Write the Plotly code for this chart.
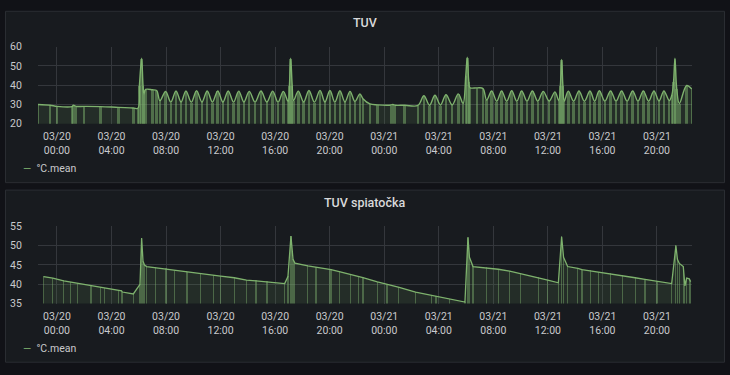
import pandas as pd
import plotly.graph_objects as go

# ---------------- data (hours since 2021-03-20 00:00) ----------------
tuv_hours = [
    -1.39, -0.5, 0.0, 1.1, 1.2, 1.4, 2.0, 3.2, 4.5, 5.6, 5.94,
    6.05, 6.21, 6.31, 6.38, 6.5, 7.0, 7.31, 7.55,
    7.97, 8.35, 8.73, 9.1, 9.46, 9.85, 10.24, 10.63, 11.02, 11.4, 11.79, 12.17,
    12.56, 12.95, 13.33, 13.71, 14.1, 14.53, 14.96, 15.39, 15.82, 16.21, 16.6,
    16.95, 17.05, 17.14, 17.25, 17.35, 17.7, 18.09, 18.48, 18.88, 19.29, 19.65,
    20.02, 20.38, 20.75, 21.12, 21.49, 21.85, 22.22, 22.44, 22.95, 23.5, 24.5,
    24.64, 24.8, 25.5, 26.47,
    26.91, 27.32, 27.72, 28.12, 28.53, 28.98, 29.43, 29.78, 29.98, 30.09, 30.2,
    30.29, 30.8, 31.24, 31.51,
    31.88, 32.25, 32.61, 32.98, 33.35, 33.72, 34.08, 34.47, 34.86, 35.26, 35.66,
    36.09, 36.52, 36.8, 36.92, 37.01, 37.1, 37.2, 37.5, 37.89, 38.28, 38.68,
    39.09, 39.43, 39.77, 40.18, 40.6, 41.0, 41.41, 41.81, 42.22, 42.61, 43.0,
    43.39, 43.78, 44.15, 44.51, 44.9, 45.1, 45.22, 45.32, 45.45, 45.64, 46.18,
    46.57,
]
tuv_values = [
    30.0, 29.6, 29.0, 28.9, 29.6, 29.0, 29.0, 28.9, 28.5, 28.2, 28.0,
    40.0, 54.0, 40.0, 35.5, 37.8, 37.6, 37.2, 32.0,
    36.7, 31.2, 37.0, 31.3, 37.0, 31.2, 37.1, 31.3, 37.0, 31.2, 37.0, 31.3,
    37.0, 31.2, 36.9, 31.3, 36.8, 31.2, 37.0, 31.3, 36.9, 31.2, 36.8,
    31.5, 40.0, 54.0, 40.0, 32.0, 36.9, 31.3, 37.2, 31.2, 37.3, 31.3,
    37.2, 31.2, 37.1, 31.3, 36.8, 31.5, 35.5, 33.0, 30.3, 29.8, 29.7,
    30.0, 29.6, 29.6, 29.5,
    34.5, 29.6, 34.8, 29.7, 35.0, 29.8, 35.5, 30.5, 45.0, 54.5, 42.0,
    38.7, 38.6, 38.3, 32.3,
    37.0, 31.7, 37.0, 31.7, 37.1, 31.7, 37.0, 31.7, 37.0, 31.7, 36.8,
    31.8, 36.5, 32.0, 40.0, 53.3, 40.0, 31.8, 36.9, 31.7, 37.0, 31.7,
    37.0, 31.7, 37.1, 31.7, 37.0, 31.7, 37.0, 31.7, 37.0, 31.7, 37.0,
    31.7, 37.0, 31.8, 37.0, 32.0, 35.0, 42.0, 54.0, 38.0, 30.5, 39.8,
    37.8,
]

ret_hours = [
    -0.98, -0.3, 0.5, 1.0, 1.5, 2.5, 3.2, 3.5, 4.5, 4.74, 4.8, 5.6,
    6.09, 6.21, 6.31, 6.42, 6.58, 7.2, 8.0, 8.6, 9.5, 9.6, 10.5, 11.5, 12.0,
    13.0, 13.9, 14.6, 15.4, 16.7, 16.94, 17.16, 17.31, 17.45, 18.4, 19.0,
    20.0, 20.1, 20.7, 21.5, 22.1, 22.44, 23.5, 24.2, 25.03, 26.3, 27.48,
    27.8, 28.8, 29.92, 30.14, 30.25, 30.51, 31.5, 32.36, 33.2, 34.0, 35.3,
    36.0, 36.77, 37.01, 37.15, 37.45, 38.2, 38.5, 39.1, 39.7, 40.6, 41.5,
    42.4, 43.12, 44.0, 45.08, 45.39, 45.5, 45.64, 45.93, 46.05, 46.18,
    46.37, 46.47,
]
ret_values = [
    42.0, 41.6, 40.9, 40.6, 40.2, 39.6, 39.3, 39.0, 38.4, 38.3, 38.0, 37.5,
    40.0, 52.0, 46.0, 45.0, 44.6, 44.3, 44.0, 43.7, 43.3, 43.2, 42.8, 42.3, 42.1,
    41.7, 41.1, 40.9, 40.7, 40.2, 42.0, 52.5, 46.5, 45.5, 44.8, 44.5,
    43.9, 43.8, 43.3, 42.6, 42.1, 41.7, 40.6, 40.0, 39.3, 38.0, 37.1,
    36.9, 36.2, 35.4, 52.1, 47.0, 44.6, 44.3, 43.9, 43.4, 42.8, 41.7,
    41.1, 40.4, 52.3, 47.0, 44.6, 44.1, 43.8, 43.5, 43.2, 42.7, 42.2,
    41.7, 41.3, 40.8, 40.2, 50.0, 46.5, 45.4, 44.6, 39.6, 41.6,
    41.4, 40.7,
]

panel_titles = ["TUV", "TUV spiatočka"]
legend_label = "°C.mean"
base_time = pd.Timestamp("2021-03-20 00:00")
x_start_h, x_end_h = -1.39, 46.57

# ---------------- styling ----------------
GREEN = "#7eb26d"
FILL = "rgba(126,178,109,0.12)"
BARC_TOP = "rgba(126,178,109,0.50)"
BARC_BOT = "rgba(126,178,109,0.45)"
GRID = "#34373c"
TXT = "#c8c9cc"
FONT = "Roboto"

W, H = 730, 375
def py(px):
    return 1 - px / H
def px_(x):
    return x / W

tuv_t = base_time + pd.to_timedelta(tuv_hours, unit="h")
ret_t = base_time + pd.to_timedelta(ret_hours, unit="h")
x_range = [base_time + pd.Timedelta(hours=x_start_h), base_time + pd.Timedelta(hours=x_end_h)]

fig = go.Figure()
MIN = 60 * 1000

fig.add_trace(go.Bar(x=tuv_t, y=tuv_values, width=11 * MIN, marker=dict(color=BARC_TOP, line=dict(width=0)),
                     xaxis="x", yaxis="y", showlegend=False, hoverinfo="skip"))
fig.add_trace(go.Scatter(x=tuv_t, y=tuv_values, mode="lines", line=dict(color=GREEN, width=1.4, shape="spline", smoothing=1.0),
                         fill="tozeroy", fillcolor=FILL, xaxis="x", yaxis="y", name=legend_label, showlegend=False))
fig.add_trace(go.Bar(x=ret_t, y=ret_values, width=5 * MIN, marker=dict(color=BARC_BOT, line=dict(width=0)),
                     xaxis="x2", yaxis="y2", showlegend=False, hoverinfo="skip"))
fig.add_trace(go.Scatter(x=ret_t, y=ret_values, mode="lines", line=dict(color=GREEN, width=1.3),
                         fill="tozeroy", fillcolor=FILL, xaxis="x2", yaxis="y2", name=legend_label, showlegend=False))

xdom = [px_(38), px_(692)]
xcommon = dict(domain=xdom, range=x_range, type="date", showgrid=True, gridcolor=GRID, gridwidth=1,
               tick0=base_time, dtick=4 * 3600 * 1000, tickformat="%m/%d<br>%H:%M",
               tickfont=dict(family=FONT, size=10.5, color=TXT), ticks="outside", ticklen=3,
               tickcolor="rgba(0,0,0,0)", zeroline=False, showline=False, fixedrange=True)
ycommon = dict(showgrid=True, gridcolor=GRID, gridwidth=1, zeroline=False, showline=False,
               tickfont=dict(family=FONT, size=10.5, color=TXT), ticks="outside", ticklen=13,
               tickcolor="rgba(0,0,0,0)", fixedrange=True)

fig.update_layout(
    width=W, height=H, margin=dict(l=0, r=0, t=0, b=0),
    paper_bgcolor="#111217", plot_bgcolor="rgba(0,0,0,0)",
    barmode="overlay", bargap=0,
    xaxis=dict(anchor="y", **xcommon),
    yaxis=dict(anchor="x", domain=[py(122), py(42)], range=[20, 60], dtick=10, **ycommon),
    xaxis2=dict(anchor="y2", **xcommon),
    yaxis2=dict(anchor="x2", domain=[py(308.3), py(228.3)], range=[35, 55], dtick=5, **ycommon),
    showlegend=False,
)

# panels
for (top, bot) in [(5.5, 183), (190.7, 369)]:
    fig.add_shape(type="rect", xref="paper", yref="paper", x0=px_(5.5), x1=px_(724.5), y0=py(bot), y1=py(top),
                  fillcolor="#181b1f", line=dict(color="#2a2d32", width=1), layer="below")

# titles
for t, ypx in zip(panel_titles, [17, 203.5]):
    fig.add_annotation(text=t, xref="paper", yref="paper", x=0.5, y=py(ypx), xanchor="center", yanchor="middle",
                       showarrow=False, font=dict(family=FONT, size=12.5, color="#d8d9da", weight=500))

# legends
for ypx in [168, 354.5]:
    fig.add_annotation(text=f'<span style="color:{GREEN}">—</span>  {legend_label}', xref="paper", yref="paper",
                       x=px_(21), y=py(ypx), xanchor="left", yanchor="middle", showarrow=False,
                       font=dict(family=FONT, size=10.5, color=TXT))

fig.write_html("out.html", config={"displayModeBar": False},
               post_script="document.body.style.margin='0';document.body.style.background='#111217';")
